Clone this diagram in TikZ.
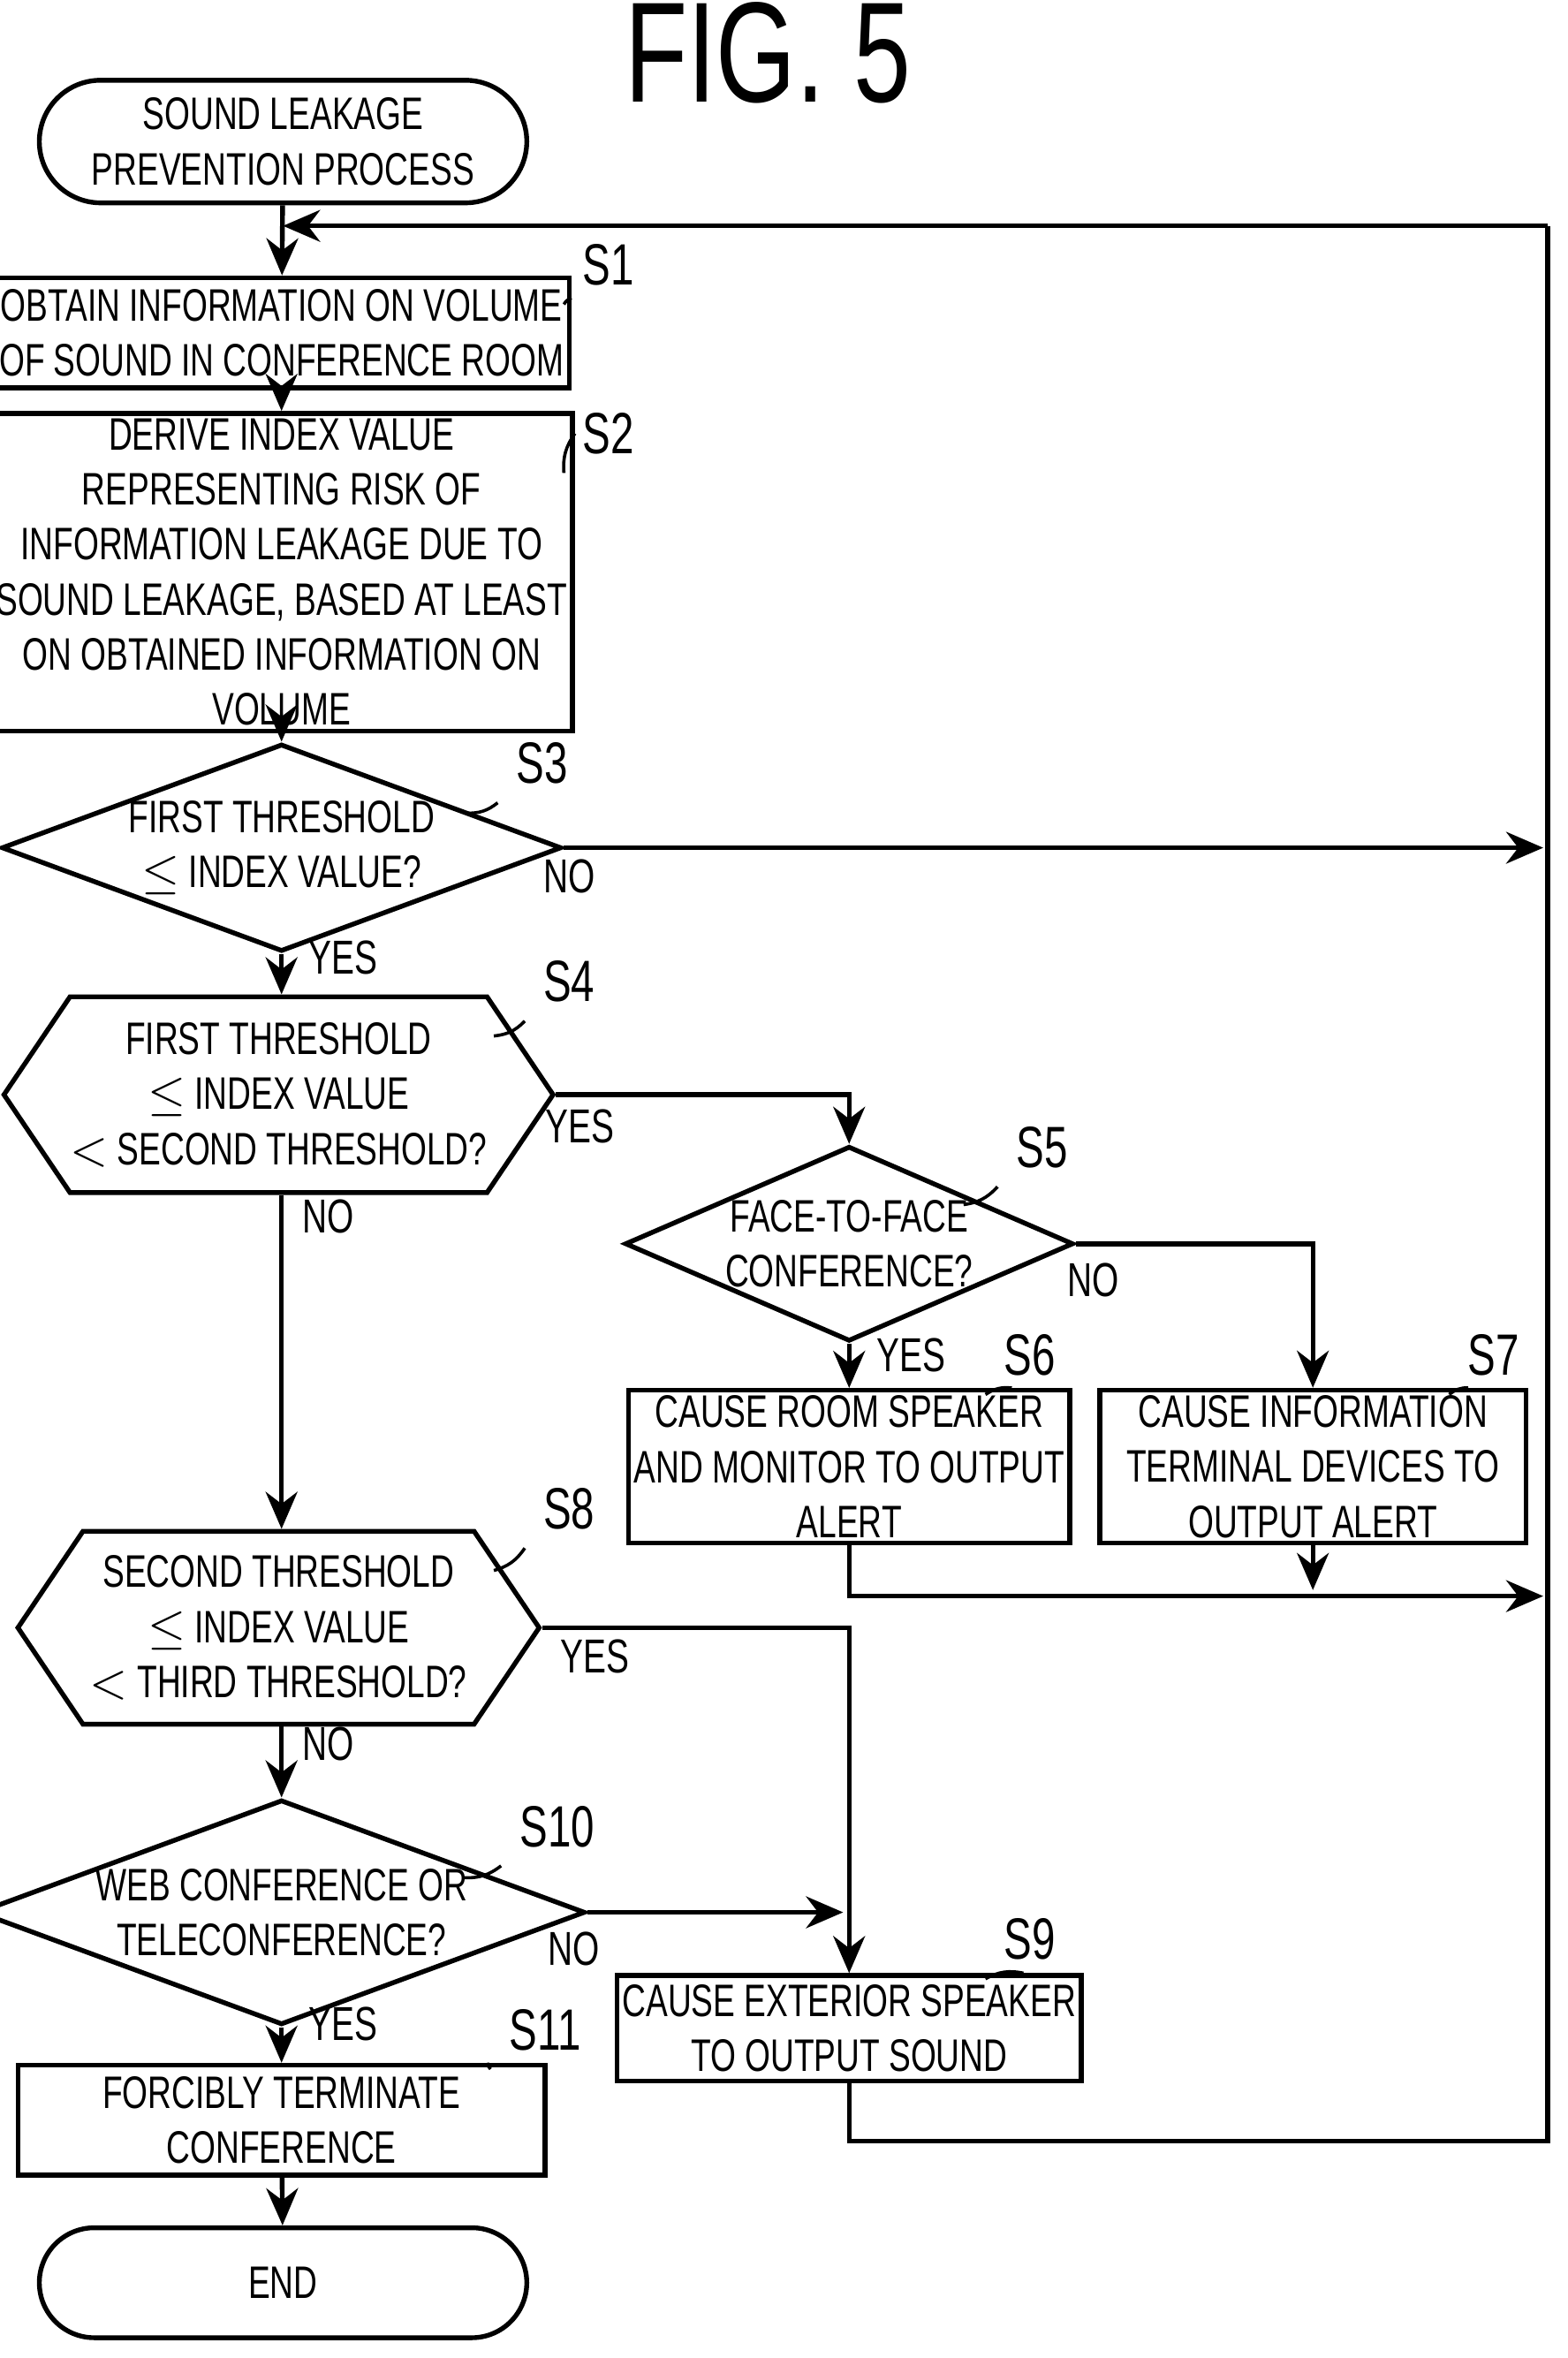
\documentclass[tikz,border=0pt]{standalone}
\usepackage{fontspec}
\setmainfont{Liberation Sans}[FakeStretch=0.72]
\usetikzlibrary{shapes.geometric,shapes.symbols,shapes.misc,arrows.meta}
\tikzset{
  box/.style={ % process step
    draw, rectangle, line width=0.9pt, align=center, inner sep=1pt,
    font=\fontsize{8.6pt}{10.4pt}\selectfont
  },
  term/.style={ % start and end
    draw, rounded rectangle, line width=0.9pt, align=center,
    font=\fontsize{8.6pt}{10.4pt}\selectfont
  },
  decision/.style={ % yes/no question
    draw, diamond, line width=0.9pt, align=center, inner sep=0pt,
    font=\fontsize{8.6pt}{10.4pt}\selectfont
  },
  band/.style={ % threshold band check
    draw, signal, signal to=west and east, signal pointer angle=112,
    line width=0.9pt, align=center, inner sep=0pt,
    minimum width=3.46cm, minimum height=1.3cm,
    font=\fontsize{8.6pt}{10.4pt}\selectfont
  },
  flow/.style={line width=0.9pt, -{Stealth[length=7pt,width=6pt]}},
  yn/.style={font=\fontsize{9pt}{10pt}\selectfont},
  stepno/.style={font=\fontsize{11pt}{12pt}\selectfont}
}
\begin{document}
\begin{tikzpicture}[x=0.01cm, y=-0.01cm]
  \useasboundingbox (0,0) rectangle (1041,1566);
  \node[font=\fontsize{27pt}{30pt}\selectfont] (title) at (510,35) {FIG. 5};

  \node[term, minimum width=3.47cm, minimum height=0.72cm] (start) at (188,94) {SOUND LEAKAGE\\PREVENTION PROCESS};
  \node[box, minimum width=3.5cm, minimum height=0.73cm] (s1) at (187,221) {OBTAIN INFORMATION ON VOLUME\\OF SOUND IN CONFERENCE ROOM};
  \node[box, minimum width=3.5cm, minimum height=1.66cm] (s2) at (187,380) {DERIVE INDEX VALUE\\REPRESENTING RISK OF\\INFORMATION LEAKAGE DUE TO\\SOUND LEAKAGE, BASED AT LEAST\\ON OBTAINED INFORMATION ON\\VOLUME};
  \node[decision, minimum width=3.43cm, minimum height=1.25cm, shape aspect=2.7] (s3) at (187,563) {FIRST THRESHOLD\\$\leq$ INDEX VALUE?};
  \node[band] (s4) at (185,727) {FIRST THRESHOLD\\$\leq$ INDEX VALUE\\$<$ SECOND THRESHOLD?};
  \node[decision, minimum width=2.78cm, minimum height=1.22cm, shape aspect=2.3] (s5) at (564,826) {FACE-TO-FACE\\CONFERENCE?};
  \node[box, minimum width=2.84cm, minimum height=0.92cm] (s6) at (564,974) {CAUSE ROOM SPEAKER\\AND MONITOR TO OUTPUT\\ALERT};
  \node[box, minimum width=2.83cm, minimum height=0.92cm] (s7) at (872,974) {CAUSE INFORMATION\\TERMINAL DEVICES TO\\OUTPUT ALERT};
  \node[band, minimum height=1.28cm] (s8) at (185,1081) {SECOND THRESHOLD\\$\leq$ INDEX VALUE\\$<$ THIRD THRESHOLD?};
  \node[decision, minimum width=3.43cm, minimum height=1.25cm, shape aspect=2.7] (s10) at (187,1270) {WEB CONFERENCE OR\\TELECONFERENCE?};
  \node[box, minimum width=2.84cm, minimum height=0.7cm] (s9) at (564,1347) {CAUSE EXTERIOR SPEAKER\\TO OUTPUT SOUND};
  \node[box, minimum width=3.5cm, minimum height=0.73cm] (s11) at (187,1408) {FORCIBLY TERMINATE\\CONFERENCE};
  \node[term, minimum width=3.47cm, minimum height=0.73cm] (end) at (188,1516) {END};

  % step numbers
  \node[stepno] (l1) at (404,176) {S1};
  \node[stepno] (l2) at (404,288) {S2};
  \node[stepno] (l3) at (360,507) {S3};
  \node[stepno] (l4) at (378,652) {S4};
  \node[stepno] (l5) at (692,762) {S5};
  \node[stepno] (l6) at (684,900) {S6};
  \node[stepno] (l7) at (992,900) {S7};
  \node[stepno] (l8) at (378,1002) {S8};
  \node[stepno] (l9) at (684,1288) {S9};
  \node[stepno] (l10) at (370,1213) {S10};
  \node[stepno] (l11) at (362,1348) {S11};
  \draw[line width=0.6pt] (s1.north east) ++(0,15) to[bend right=20] (l1.south west);
  \draw[line width=0.6pt] (s2.north east) ++(0,15) to[bend right=20] (l2.south west);
  \draw[line width=0.6pt] (310,540) to[bend right=20] (l3.south west);
  \draw[line width=0.6pt] (328,688) to[bend right=20] (l4.south west);
  \draw[line width=0.6pt] (640,800) to[bend right=20] (l5.south west);
  \draw[line width=0.6pt] (s6.north east) ++(-40,0) to[bend right=20] (l6.south west);
  \draw[line width=0.6pt] (s7.north east) ++(-40,0) to[bend right=20] (l7.south west);
  \draw[line width=0.6pt] (328,1043) to[bend right=20] (l8.south west);
  \draw[line width=0.6pt] (s9.north east) ++(-40,0) to[bend right=20] (l9.south west);
  \draw[line width=0.6pt] (308,1247) to[bend right=20] (l10.south west);
  \draw[line width=0.6pt] (s11.north east) ++(-40,0) to[bend right=20] (l11.south west);

  % return path
  \coordinate (top) at (1028,150);
  \coordinate (loop) at (188,150);
  \draw[flow] (start) -- (s1);
  \draw[flow] (top) -- (loop);
  \draw[flow] (s1) -- (s2);
  \draw[flow] (s2) -- (s3);
  \draw[flow] (s3.east) -- (1025,563);
  \node[yn] (no3) at (378,582) {NO};
  \draw[flow] (s3.south) -- (s4.north -| s3.south);
  \node[yn] (yes3) at (228,636) {YES};
  \draw[flow] (s4.east) -- (564,727) -- (s5.north);
  \node[yn] (yes4) at (385,748) {YES};
  \draw[flow] (s5.east) -- (872,826) -- (s7.north);
  \node[yn] (no5) at (726,850) {NO};
  \draw[flow] (s5.south) -- (s6.north);
  \node[yn] (yes5) at (605,900) {YES};
  \draw[flow] (s6.south) -- (564,1060) -- (1025,1060);
  \draw[flow] (s7.south) -- (872,1056);
  \draw[flow] (s4.south -| s3.south) -- (s8.north -| s3.south);
  \node[yn] (no4) at (218,808) {NO};
  \draw[flow] (s8.east) -- (564,1081) -- (s9.north);
  \node[yn] (yes8) at (395,1100) {YES};
  \draw[flow] (s8.south -| s3.south) -- (s10.north);
  \node[yn] (no8) at (218,1158) {NO};
  \draw[flow] (s10.east) -- (560,1270);
  \node[yn] (no10) at (381,1294) {NO};
  \draw[flow] (s10.south) -- (s11.north);
  \node[yn] (yes10) at (228,1344) {YES};
  \draw[flow] (s11) -- (end);
  \draw[line width=0.9pt] (s9.south) -- (564,1422) -- (1028,1422) -- (top);
\end{tikzpicture}
\end{document}
